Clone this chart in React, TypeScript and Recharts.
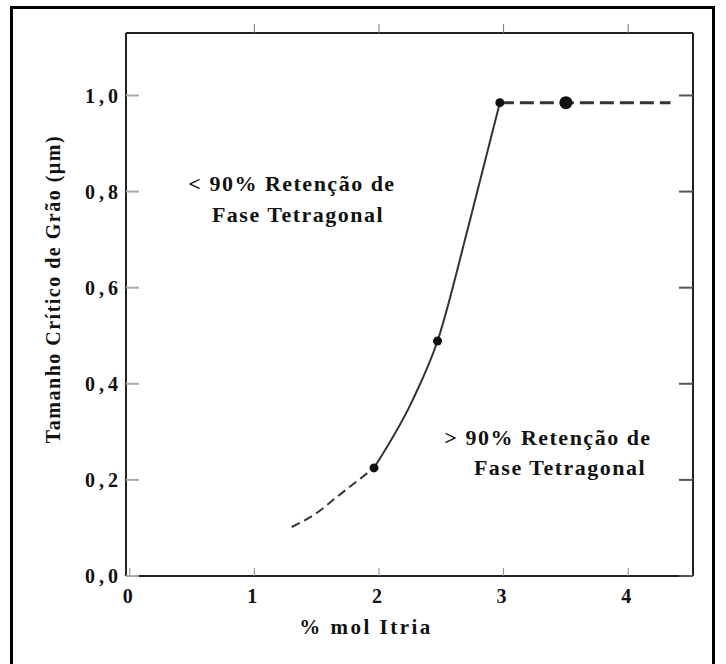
import React from 'react';
import { ComposedChart, Line, Scatter, XAxis, YAxis, Customized } from 'recharts';

// axis ticks
const xTicks = [0, 1, 2, 3, 4];
const topTicks = [1, 2, 3, 4];
const yTicks = [0, 0.2, 0.4, 0.6, 0.8, 1.0];

// dashed start of the curve (low yttria)
const lowX = [1.3, 1.5, 1.66, 1.96];
const lowY = [0.102, 0.131, 0.164, 0.225];
// solid rising part
const riseX = [1.96, 2.27, 2.47, 2.72, 2.97];
const riseY = [0.225, 0.366, 0.489, 0.73, 0.985];
// dashed plateau
const plateauX = [2.97, 3.5, 4.34];
const plateauY = [0.985, 0.985, 0.985];
// measured points
const smallDotX = [1.96, 2.47, 2.97];
const smallDotY = [0.225, 0.489, 0.985];
const bigDotX = [3.5];
const bigDotY = [0.985];

const toPoints = (xs: number[], ys: number[]) => xs.map((x, i) => ({ x, y: ys[i] }));

const fmt = (v: number) => v.toFixed(1).replace('.', ',');

const font = "'Liberation Serif', 'Times New Roman', serif";
const tickStyle = { fontFamily: font, fontWeight: 'bold', fontSize: 20, fill: '#111', letterSpacing: 4 };

const Notes = () => (
  <g fontFamily={font} fontWeight="bold" fill="#111" textAnchor="middle">
    <text x={292} y={191} fontSize={22} letterSpacing={1.5}>&lt; 90% Retenção de</text>
    <text x={298} y={222} fontSize={22} letterSpacing={1.5}>Fase Tetragonal</text>
    <text x={548} y={445} fontSize={22} letterSpacing={1.5}>&gt; 90% Retenção de</text>
    <text x={560} y={475} fontSize={22} letterSpacing={1.5}>Fase Tetragonal</text>
    <text x={366} y={634} fontSize={21} letterSpacing={2.5}>% mol Itria</text>
    <text x={0} y={0} fontSize={20} letterSpacing={1.5} transform="translate(60, 289) rotate(-90)">
      Tamanho Crítico de Grão  (µm)
    </text>
  </g>
);

export default function App() {
  return (
    <div style={{ position: 'absolute', left: 0, top: 0, width: 726, height: 664, background: '#fff', overflow: 'hidden' }}>
      <div
        style={{
          position: 'absolute',
          left: 10,
          top: 6,
          width: 705,
          height: 680,
          border: '3px solid #000',
          boxSizing: 'border-box',
        }}
      />
      <div style={{ position: 'absolute', left: 0, top: 0 }}>
        <ComposedChart width={726} height={664} margin={{ top: 23, right: 23, bottom: 58, left: 46 }}>
          <XAxis
            xAxisId="b"
            dataKey="x"
            type="number"
            domain={[-0.03, 4.52]}
            allowDataOverflow
            ticks={xTicks}
            height={30}
            axisLine={{ stroke: '#222', strokeWidth: 2 }}
            tickLine={{ stroke: '#888' }}
            tickSize={-8}
            tickMargin={21}
            tick={tickStyle}
            tickFormatter={(v) => String(v)}
          />
          <XAxis
            xAxisId="t"
            orientation="top"
            dataKey="x"
            type="number"
            domain={[-0.03, 4.52]}
            allowDataOverflow
            ticks={topTicks}
            height={10}
            axisLine={{ stroke: '#222', strokeWidth: 2 }}
            tickLine={{ stroke: '#777' }}
            tickSize={9}
            tickFormatter={() => ''}
          />
          <YAxis
            yAxisId="l"
            type="number"
            domain={[0, 1.13]}
            allowDataOverflow
            ticks={yTicks}
            width={80}
            axisLine={{ stroke: '#222', strokeWidth: 2 }}
            tickLine={{ stroke: '#aaa', strokeWidth: 2 }}
            tickSize={-13}
            tickMargin={17}
            tick={tickStyle}
            tickFormatter={fmt}
          />
          <YAxis
            yAxisId="r"
            orientation="right"
            type="number"
            domain={[0, 1.13]}
            allowDataOverflow
            ticks={yTicks}
            width={10}
            axisLine={{ stroke: '#222', strokeWidth: 2 }}
            tickLine={{ stroke: '#555', strokeWidth: 2 }}
            tickSize={-14}
            tickFormatter={() => ''}
          />
          <Line
            xAxisId="b"
            yAxisId="l"
            data={toPoints(lowX, lowY)}
            dataKey="y"
            type="monotone"
            stroke="#333"
            strokeWidth={2}
            strokeDasharray="9 5"
            dot={false}
            isAnimationActive={false}
          />
          <Line
            xAxisId="b"
            yAxisId="l"
            data={toPoints(riseX, riseY)}
            dataKey="y"
            type="monotone"
            stroke="#333"
            strokeWidth={2}
            dot={false}
            isAnimationActive={false}
          />
          <Line
            xAxisId="b"
            yAxisId="l"
            data={toPoints(plateauX, plateauY)}
            dataKey="y"
            type="linear"
            stroke="#333"
            strokeWidth={3}
            strokeDasharray="14 6"
            dot={false}
            isAnimationActive={false}
          />
          <Scatter
            xAxisId="b"
            yAxisId="l"
            data={toPoints(smallDotX, smallDotY)}
            dataKey="y"
            fill="#111"
            shape={(p: any) => <circle cx={p.cx} cy={p.cy} r={4.5} fill="#111" />}
            isAnimationActive={false}
          />
          <Scatter
            xAxisId="b"
            yAxisId="l"
            data={toPoints(bigDotX, bigDotY)}
            dataKey="y"
            fill="#111"
            shape={(p: any) => <circle cx={p.cx} cy={p.cy} r={6.5} fill="#111" />}
            isAnimationActive={false}
          />
          <Customized component={Notes} />
        </ComposedChart>
      </div>
    </div>
  );
}
